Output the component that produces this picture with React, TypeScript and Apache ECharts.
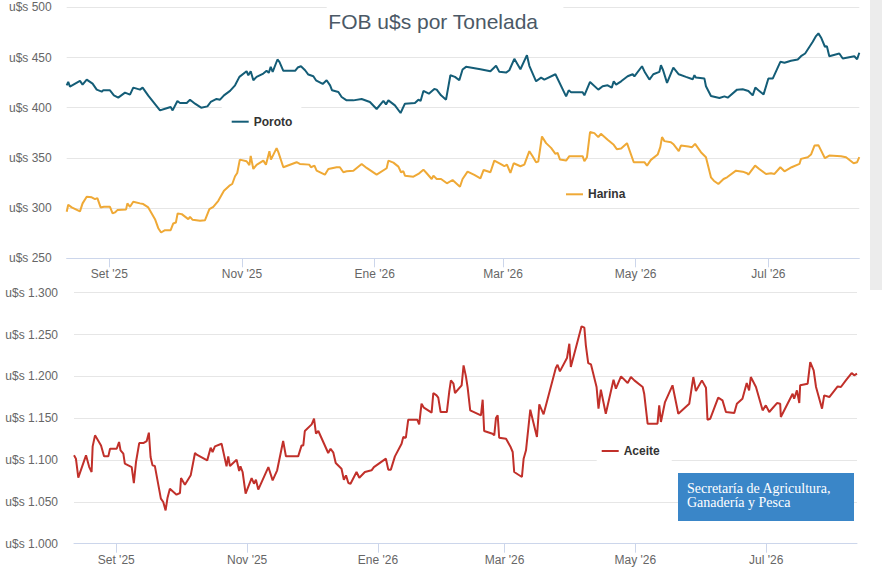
import React, { useEffect, useRef } from "react";
import * as echarts from "echarts";

// x values are days elapsed since 12 Aug 2025
const START_DATE = "2025-08-12";
const TICK_DATES = ["2025-09-01", "2025-11-01", "2026-01-01", "2026-03-01", "2026-05-01", "2026-07-01"];
const MONTHS_ES = ["Ene", "Feb", "Mar", "Abr", "May", "Jun", "Jul", "Ago", "Set", "Oct", "Nov", "Dic"];
const TITLE = "FOB u$s por Tonelada";
const LOGO_LINES = ["Secretaría de Agricultura,", "Ganadería y Pesca"];

const porotoDays = [0.4,1.1,1.9,6.5,7.7,9.6,12.3,14.2,16.5,17.2,20.3,22.1,24.1,27.2,29.5,31.0,34.1,35.3,37.9,43.3,45.6,48.2,49.1,51.3,52.5,55.6,57.1,59.4,62.2,65.1,66.6,69.3,70.9,72.7,75.5,77.8,79.8,83.1,83.9,85.0,86.2,87.7,90.8,92.3,93.3,94.2,95.1,97.3,98.2,100.0,105.4,106.6,108.1,110.0,111.5,113.8,115.0,118.1,119.9,121.5,122.4,125.3,126.8,129.1,132.2,136.0,139.8,142.9,146.0,147.2,148.3,151.3,153.9,155.9,160.5,162.1,163.1,164.4,166.9,169.4,170.5,172.5,174.8,176.8,178.9,180.9,182.4,184.0,190.6,195.2,197.8,199.3,202.4,203.9,206.2,209.0,212.0,213.1,216.2,218.5,220.0,225.1,230.0,231.2,232.3,237.6,238.4,241.0,244.8,246.8,249.1,251.0,251.9,253.0,255.3,258.3,260.6,261.4,264.9,266.3,268.3,270.1,272.9,273.6,274.6,276.4,279.3,281.8,285.1,288.2,289.0,289.7,293.6,294.3,296.6,300.5,302.8,304.3,308.6,311.2,313.8,315.8,317.0,318.4,320.8,323.0,325.0,328.5,330.4,333.4,336.5,338.0,339.9,343.4,344.9,346.0,347.2,349.0,349.9,351.0,355.6,357.2,362.5,363.8,364.8];
const porotoValues = [422.3,425.7,421,426.7,423,428,424,418,416,417.3,417.3,412.3,410,415,413,420,418,420,412,397.3,399,400.7,397.3,406.7,404.7,404.7,408,404,400,401.3,405.7,408.7,408,412.3,416.7,422.3,430.7,436.3,432.3,436.3,427.3,430.7,434,436.7,434.7,440.7,435.7,448,445.7,436.7,436.7,440,441.3,437.3,433,431.3,427.3,423.7,427.3,422.3,417.3,415.7,410.7,407.3,407.3,408.7,405.7,398.7,406.7,403.3,407.3,402.3,394.7,404,404.7,408,406.7,416.7,414,418.7,418,412.3,408,432.3,430.7,427.3,438,440.7,438.3,436.3,441.7,435.7,435,437.3,448.7,438.3,452.3,441.7,426.3,430,428,433.3,411.3,417.3,415.3,415.3,412.3,425.7,418,421.3,422.3,420,426.3,423,426.3,431.3,433.3,431.3,441.3,435,428,433.3,435.7,442.3,437.3,424.7,440,433.3,430.7,428.3,432.3,430,429,421.3,411.7,409.7,411.3,410,418,418.3,416.7,412.3,420,417.3,413.3,429,429,445.7,444.7,446.7,448,451.3,454,465.7,471.3,474,470,460.7,461.3,451.3,454,449,451.3,448.3,454.7];

const harinaDays = [0.4,1.1,2.7,6.5,7.7,9.6,11.9,13.4,14.5,16.0,17.5,20.3,21.5,22.6,23.7,27.7,28.3,29.5,31.0,34.1,35.6,37.9,41.0,42.5,43.8,45.6,48.2,49.4,50.6,51.4,53.3,56.3,57.1,58.3,61.7,64.0,66.0,67.8,70.1,72.7,75.2,76.5,77.8,78.8,80.0,83.1,84.4,85.0,86.2,87.7,90.8,92.0,93.6,94.3,96.9,97.7,100.0,106.1,107.6,111.9,112.7,114.3,115.3,119.1,120.7,124.5,126.0,127.6,129.1,132.2,136.0,138.3,142.9,147.5,148.3,150.6,152.9,154.1,155.2,155.9,159.8,162.1,164.4,165.9,168.2,169.0,170.5,172.5,175.2,177.8,181.2,182.4,184.7,187.8,190.6,192.1,195.2,197.0,199.8,201.6,202.8,204.4,205.9,209.0,210.8,213.1,214.6,216.2,217.2,218.9,220.8,223.1,225.1,226.1,227.2,230.0,231.5,237.6,238.4,239.6,241.0,243.0,244.8,246.0,249.1,251.9,253.3,255.3,258.0,261.1,266.0,267.2,269.0,272.1,273.3,274.1,275.2,278.2,279.5,281.8,282.8,286.2,287.9,289.3,292.0,294.3,296.6,297.9,300.0,302.4,304.0,308.1,311.2,313.2,313.8,316.9,318.8,321.9,324.2,325.8,328.5,330.4,333.7,337.3,338.0,341.1,342.6,344.2,346.0,349.0,351.0,356.4,358.7,362.2,363.8,364.8];
const harinaValues = [296.3,303.3,300.7,296.7,304.7,311.3,310.7,309,310,300.7,301.3,301.3,294.7,295.7,298,298.7,304.7,301.3,306.3,304.7,304,300.7,289,280,275.7,278,278,284.7,285.7,294.7,294,289,291.3,288.3,287.3,288,299,301.3,307.3,317.3,322.3,324,331.7,335,348.3,346.7,342.7,352,339,343,347.3,343.3,356.7,348.3,359.7,355.7,340.7,345.7,344,343.3,340.7,342.3,337.3,333.3,339,340.7,340.7,335.7,336.7,337.3,344,340,333.3,339.7,347.3,345.3,341.3,335.7,336.7,332.3,331.3,334,338.3,334.7,329,332.3,329,329,324.7,328,321.3,329,336.3,333,329.7,338,335.7,347.3,344,341.7,343.3,335,344.7,341.7,343.3,356.7,351.7,345.7,346.3,371.3,364.7,360,354,355,348.3,347.3,351.7,351.7,346.7,350.7,375.7,374.7,370.7,374,368,363,358.7,359.3,364.7,345.7,345.7,342.3,348,353.3,360.7,370.7,366.7,365.7,363.3,356.7,362.3,361.3,360.7,364,355.7,350.7,330.7,327.3,324,329,330.7,337.3,336.3,334.7,333.3,342.3,339,334,334.7,334,340.7,336.7,340.7,344,349,350.7,353.3,362.3,362.7,349.7,352.3,351.7,350.7,344.7,345.7,350.7];

const aceiteDays = [0.3,1.2,2.3,5.9,7.4,8.5,9.0,10.1,12.9,14.3,16.3,17.1,20.2,21.3,22.0,23.3,24.0,27.2,28.2,29.2,30.7,32.6,34.2,35.2,36.0,36.9,38.0,40.8,41.9,43.0,43.9,45.0,48.1,49.7,50.2,52.0,54.7,56.7,57.5,62.4,64.0,64.9,66.0,69.1,71.4,72.2,73.0,76.1,77.3,77.9,78.9,80.3,83.1,84.2,85.1,86.2,90.9,92.9,95.0,97.8,99.1,104.8,106.4,107.2,107.9,111.1,112.2,113.1,114.2,118.8,119.9,121.2,122.3,125.0,126.1,127.1,128.2,129.2,132.0,133.3,135.9,139.0,140.1,145.7,146.8,148.0,149.9,153.0,153.8,155.0,156.1,160.3,161.2,162.3,163.4,167.0,167.8,169.3,170.1,171.2,174.1,175.2,176.0,177.2,177.9,181.0,181.9,183.0,183.8,185.0,190.0,190.8,191.5,195.4,196.2,197.0,197.8,198.5,201.7,203.7,204.8,205.5,209.1,209.9,211.0,213.0,216.1,217.2,219.2,224.9,225.7,226.8,230.1,231.2,231.9,236.9,238.2,238.9,240.0,241.3,243.9,244.8,245.9,248.2,251.8,252.9,255.3,258.4,259.9,261.5,265.4,266.1,267.7,272.3,273.1,273.9,275.8,279.3,282.0,287.1,289.0,290.2,293.0,294.9,295.6,296.9,300.6,302.6,304.2,308.1,309.3,311.9,313.9,315.0,315.8,318.2,321.3,322.8,324.4,328.0,329.5,329.8,335.3,336.0,337.3,338.4,338.8,342.3,343.5,345.1,346.2,349.0,350.0,352.4,356.3,357.8,360.1,362.8,364.0,365.3];
const aceiteValues = [1105.6,1101.6,1078.9,1105.6,1091.6,1085.7,1116.3,1129.5,1117.5,1104.4,1104.4,1113.5,1113.5,1121.5,1111.6,1107.6,1095.6,1091.6,1072.5,1097.6,1120.3,1120.3,1122.7,1132.7,1103.6,1093.6,1092.8,1053.8,1049.8,1039.8,1055.0,1065.7,1058.6,1060.6,1078.5,1070.5,1081.7,1108.4,1106.4,1099.6,1114.7,1109.6,1116.3,1119.5,1092.4,1104.4,1092.8,1100.4,1086.9,1092.4,1085.7,1059.8,1078.5,1071.7,1076.5,1064.7,1091.6,1075.7,1087.7,1122.7,1104.4,1104.4,1117.5,1117.5,1134.7,1142.6,1149.4,1131.5,1134.7,1108.4,1113.5,1108.8,1096.4,1089.6,1076.5,1081.7,1072.5,1071.7,1085.7,1078.9,1085.7,1087.7,1091.6,1101.6,1088.5,1088.5,1104.4,1119.5,1127.5,1126.7,1148.2,1148.2,1142.6,1167.3,1162.6,1156.6,1180.1,1177.3,1174.5,1157.4,1157.4,1181.3,1195.2,1191.2,1180.1,1189.3,1213.1,1200.0,1186.5,1159.4,1153.4,1172.1,1134.7,1131.5,1129.5,1150.2,1153.4,1126.7,1125.5,1116.3,1109.6,1085.7,1079.7,1101.6,1111.6,1160.2,1127.5,1166.6,1154.6,1210.0,1213.9,1206.0,1221.9,1239.0,1211.2,1259.8,1258.2,1237.1,1215.9,1214.3,1187.3,1161.4,1184.1,1155.4,1196.0,1185.3,1200.0,1192.0,1199.2,1195.2,1187.3,1179.3,1143.4,1143.4,1165.3,1145.5,1169.3,1189.3,1155.4,1167.3,1199.2,1182.5,1195.2,1186.5,1148.2,1149.4,1174.5,1171.3,1157.4,1156.2,1167.3,1173.3,1192.0,1183.3,1199.2,1187.3,1159.4,1165.3,1157.4,1168.1,1167.3,1151.4,1179.3,1173.3,1183.3,1168.1,1189.3,1191.2,1217.1,1207.1,1187.3,1161.4,1177.3,1175.3,1188.0,1187.3,1195.2,1204.0,1201.2,1203.2];

const TOP_TICKS = { min: 250, max: 500, interval: 50 };
const BOTTOM_TICKS = { min: 1000, max: 1300, interval: 50 };

const COLORS = { poroto: "#145d77", harina: "#efa936", aceite: "#c1302a" };

const DAY_MS = 86400000;
const base = Date.parse(START_DATE);
const toPoints = (days: number[], vals: number[]) => days.map((d, i) => [base + d * DAY_MS, vals[i]]);
const tickValues = TICK_DATES.map((d) => Date.parse(d));
const fmtDate = (v: number) => {
  const dt = new Date(v);
  return MONTHS_ES[dt.getUTCMonth()] + " '" + String(dt.getUTCFullYear()).slice(2);
};
const fmtThousands = (v: number) => {
  const n = Math.round(v);
  if (n >= 1000) return Math.floor(n / 1000) + "." + String(n % 1000).padStart(3, "0");
  return String(n);
};

const FONT = "Liberation Sans, Arial, sans-serif";

export default function App() {
  const ref = useRef<HTMLDivElement>(null);
  useEffect(() => {
    if (!ref.current) return;
    const chart = echarts.init(ref.current, null, { renderer: "svg" });
    const xAxisBase = (gridIndex: number) => ({
      type: "value",
      gridIndex,
      min: "dataMin",
      max: "dataMax",
      axisLine: { show: true, onZero: false, lineStyle: { color: "#ccd6eb", width: 1 } },
      axisTick: { show: true, customValues: tickValues, length: 9, lineStyle: { color: "#ccd6eb" } },
      axisLabel: {
        customValues: tickValues,
        formatter: (v: number) => fmtDate(v),
        color: "#666666",
        fontSize: 12,
        fontFamily: FONT,
        margin: 10,
      },
      splitLine: { show: false },
    });
    const yAxisBase = (gridIndex: number, t: any, margin: number) => ({
      type: "value",
      gridIndex,
      min: t.min,
      max: t.max,
      interval: t.interval,
      axisLine: { show: false },
      axisTick: { show: false },
      splitLine: { show: true, lineStyle: { color: "#e6e6e6", width: 1 } },
      axisLabel: {
        formatter: (v: number) => "u$s " + fmtThousands(v),
        color: "#666666",
        fontSize: 12,
        fontFamily: FONT,
        margin,
        padding: [4, 0, 0, 0],
      },
    });
    const legendBase = (name: string, left: number, top: number, padding: number[]) => ({
      data: [name],
      left,
      top,
      padding,
      backgroundColor: "#ffffff",
      icon: "rect",
      itemWidth: 17,
      itemHeight: 2,
      selectedMode: false,
      textStyle: { fontSize: 12, fontWeight: "bold", color: "#333333", fontFamily: FONT },
    });
    const option: any = {
      animation: false,
      backgroundColor: "#ffffff",
      title: {
        text: TITLE,
        left: 326.7,
        top: 1,
        padding: [10, 25, 6, 1.6],
        backgroundColor: "#ffffff",
        textStyle: { fontFamily: FONT, fontSize: 21, fontWeight: "normal", color: "#4b5966" },
      },
      legend: [
        legendBase("Poroto", 221.7, 105.7, [10, 9, 10, 10]),
        legendBase("Harina", 556, 180.3, [8, 9, 5, 10]),
        legendBase("Aceite", 596.7, 435, [10, 12, 10, 5]),
      ],
      grid: [
        { left: 66.7, top: 7.3, width: 792.6, height: 251, containLabel: false },
        { left: 74, top: 292.7, width: 783, height: 251, containLabel: false },
      ],
      xAxis: [xAxisBase(0), xAxisBase(1)],
      yAxis: [yAxisBase(0, TOP_TICKS, 15), yAxisBase(1, BOTTOM_TICKS, 16)],
      series: [
        {
          name: "Poroto",
          type: "line",
          xAxisIndex: 0,
          yAxisIndex: 0,
          data: toPoints(porotoDays, porotoValues),
          showSymbol: false,
          color: COLORS.poroto,
          lineStyle: { width: 2, color: COLORS.poroto },
        },
        {
          name: "Harina",
          type: "line",
          xAxisIndex: 0,
          yAxisIndex: 0,
          data: toPoints(harinaDays, harinaValues),
          showSymbol: false,
          color: COLORS.harina,
          lineStyle: { width: 2, color: COLORS.harina },
        },
        {
          name: "Aceite",
          type: "line",
          xAxisIndex: 1,
          yAxisIndex: 1,
          data: toPoints(aceiteDays, aceiteValues),
          showSymbol: false,
          color: COLORS.aceite,
          lineStyle: { width: 2, color: COLORS.aceite },
        },
      ],
      graphic: [
        { type: "rect", z: 10, shape: { x: 870, y: 0, width: 12, height: 290 }, style: { fill: "#ececec" } },
        { type: "rect", z: 10, shape: { x: 678, y: 473, width: 176, height: 48 }, style: { fill: "#3a86c8" } },
        {
          type: "text",
          z: 11,
          x: 687,
          y: 488.7,
          style: { text: LOGO_LINES[0], fill: "#ffffff", font: "14px 'Liberation Serif', serif", verticalAlign: "middle" },
        },
        {
          type: "text",
          z: 11,
          x: 687,
          y: 502.5,
          style: { text: LOGO_LINES[1], fill: "#ffffff", font: "14px 'Liberation Serif', serif", verticalAlign: "middle" },
        },
      ],
    };
    chart.setOption(option);
    return () => chart.dispose();
  }, []);
  return (
    <div
      ref={ref}
      style={{ position: "fixed", left: 0, top: 0, width: 882, height: 577, background: "#ffffff" }}
    />
  );
}
